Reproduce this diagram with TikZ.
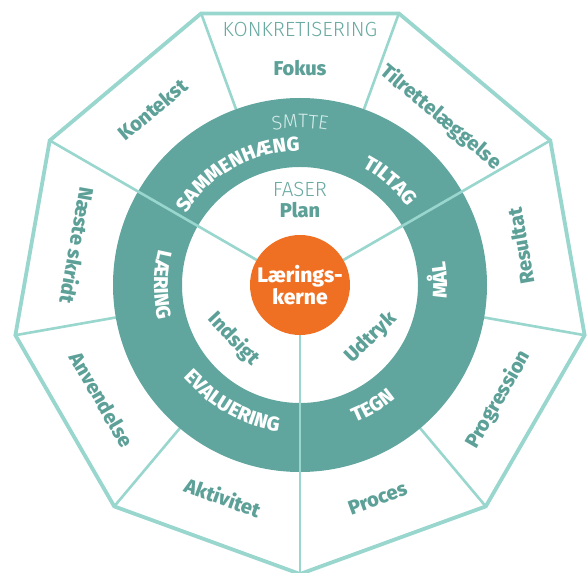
\documentclass[tikz,border=0pt]{standalone}
\usepackage{fontspec}
\setmainfont{Fira Sans}[BoldFont={Fira Sans ExtraBold}]
\newfontfamily\firalight{Fira Sans Light}
\usetikzlibrary{decorations.text}
\definecolor{linec}{RGB}{152,214,206}
\definecolor{ringc}{RGB}{96,166,158}
\definecolor{labc}{RGB}{92,160,152}
\definecolor{lightc}{RGB}{106,170,162}
\definecolor{smttec}{RGB}{214,236,233}
\definecolor{orangec}{RGB}{240,112,35}
\tikzset{
  outline/.style={draw=linec, line width=3.8pt, line join=miter},
  spoke/.style={draw=linec, line width=2.6pt},
  lab/.style={text=labc, font=\bfseries\fontsize{20}{24}\selectfont, inner sep=0pt},
  lightlab/.style={text=lightc, font=\firalight\fontsize{20.5}{24}\selectfont, inner sep=0pt},
}
\begin{document}
\begin{tikzpicture}[x=1pt,y=1pt]
\useasboundingbox (-300,-287) rectangle (288,285);
% nonagon vertices
\foreach \a/\n in {110/v1,70/v2,30/v3,-10/v4,-50/v5,-90/v6,230/v7,190/v8,150/v9}{
  \coordinate (\n) at (\a:289);
  \coordinate (\n i) at (\a:187);
  \coordinate (\n c) at (\a:50);
}
\draw[outline] (v1) -- (v2) -- (v3) -- (v4) -- (v5) -- (v6) -- (v7) -- (v8) -- (v9) -- cycle;
% short spokes
\foreach \n in {v1,v2,v4,v5,v7,v8}{
  \draw[spoke] (\n) -- (\n i);
}
% ring
\fill[ringc, even odd rule] (0,0) circle[radius=187] (0,0) circle[radius=118];
% long spokes
\foreach \n in {v3,v6,v9}{
  \draw[spoke] (\n) -- (\n c);
}
% core
\node[circle, fill=orangec, minimum size=100pt, inner sep=0pt] (core) at (0,0) {};
\node[text=white, align=center, font=\bfseries\fontsize{21}{18}\selectfont, inner sep=0pt] (corelab) at (0,0) {Lærings-\\kerne};

% outer labels
\node[lightlab] (konkret) at (0,256) {KONKRETISERING};
\node[lab] (fokus) at (0,217) {Fokus};
\node[lab, rotate=40] (kontekst) at (130:229) {Kontekst};
\node[lab, rotate=-40] (tilrette) at (50:219) {Tilrettelæggelse};
\node[lab, rotate=100] (resultat) at (10:224) {Resultat};
\node[lab, rotate=60] (progression) at (-30:229) {Progression};
\node[lab, rotate=20] (proces) at (-70:227) {Proces};
\node[lab, rotate=-20] (aktivitet) at (250:226) {Aktivitet};
\node[lab, rotate=-60] (anvendelse) at (210:229) {Anvendelse};
\node[lab, rotate=-100] (naeste) at (170:226) {Næste skridt};

% ring labels
\path[decorate, decoration={text along path, text align=center,
  text={|\firalight\fontsize{19.5}{22}\selectfont\color{smttec}|SMTTE}}]
  (130:157) arc[start angle=130, end angle=50, radius=157];
\path[decorate, decoration={text along path, text align=center,
  text={|\bfseries\fontsize{20}{24}\selectfont\color{white}|SAMMENHÆNG}}]
  (179:134) arc[start angle=179, end angle=59, radius=134];
\path[decorate, decoration={text along path, text align=center,
  text={|\bfseries\fontsize{20}{24}\selectfont\color{white}|TI{LT}AG}}]
  (89:133) arc[start angle=89, end angle=9, radius=133];
\path[decorate, decoration={text along path, text align=center,
  text={|\bfseries\fontsize{20}{24}\selectfont\color{white}|MÅL}}]
  (-38:147) arc[start angle=-38, end angle=42, radius=147];
\path[decorate, decoration={text along path, text align=center,
  text={|\bfseries\fontsize{20}{24}\selectfont\color{white}|TEGN}}]
  (-99:148) arc[start angle=-99, end angle=-19, radius=148];
\path[decorate, decoration={text along path, text align=center,
  text={|\bfseries\fontsize{20}{24}\selectfont\color{white}|{EVA}LUERING}}]
  (180:148) arc[start angle=180, end angle=300, radius=148];
\path[decorate, decoration={text along path, text align=center,
  text={|\bfseries\fontsize{20}{24}\selectfont\color{white}|LÆRING}}]
  (130:146) arc[start angle=130, end angle=230, radius=146];

% inner labels
\node[lightlab] (faser) at (0,96) {FASER};
\node[lab] (plan) at (0,75) {Plan};
\node[lab, rotate=-47] (indsigt) at (-66,-54) {Indsigt};
\node[lab, rotate=44] (udtryk) at (71,-53) {Udtryk};
\end{tikzpicture}
\end{document}
